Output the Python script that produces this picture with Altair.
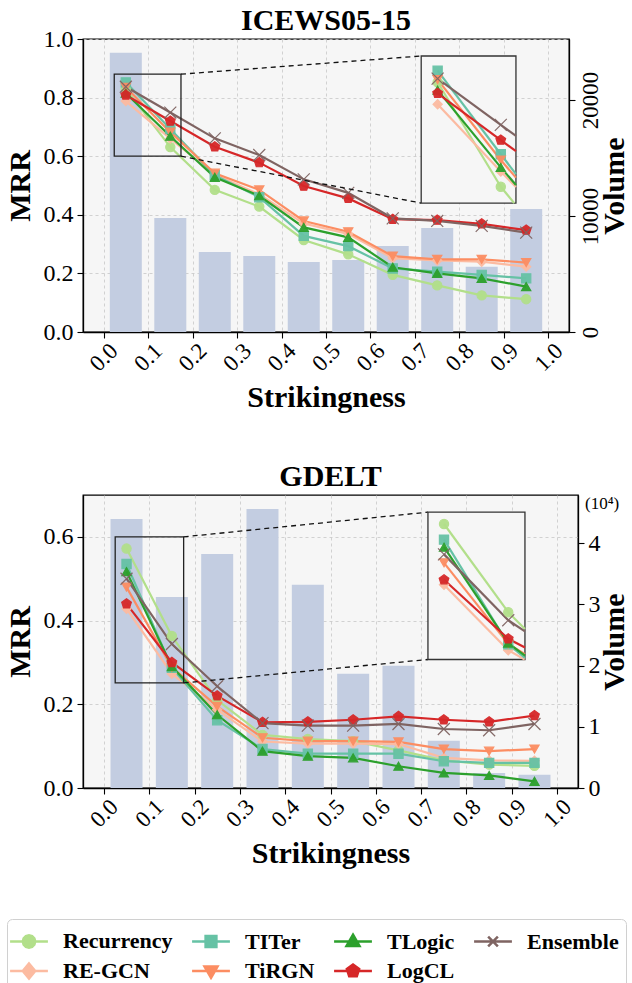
import math
import altair as alt
import pandas as pd

# ---------------- data ----------------
strikingness = [0.05, 0.15, 0.25, 0.35, 0.45, 0.55, 0.65, 0.75, 0.85, 0.95]
x_tick_values = [0.0, 0.1, 0.2, 0.3, 0.4, 0.5, 0.6, 0.7, 0.8, 0.9, 1.0]
methods = ["Recurrency", "RE-GCN", "TITer", "TiRGN", "TLogic", "LogCL", "Ensemble"]

icews_recurrency = [0.830, 0.631, 0.485, 0.428, 0.314, 0.265, 0.195, 0.159, 0.125, 0.112]
icews_regcn = [0.788, 0.660, 0.537, 0.470, 0.370, 0.335, 0.252, 0.244, 0.240, 0.223]
icews_titer = [0.852, 0.693, 0.535, 0.460, 0.328, 0.293, 0.217, 0.206, 0.195, 0.183]
icews_tirgn = [0.835, 0.682, 0.542, 0.485, 0.379, 0.342, 0.259, 0.248, 0.248, 0.237]
icews_tlogic = [0.815, 0.668, 0.528, 0.465, 0.357, 0.323, 0.221, 0.200, 0.183, 0.155]
icews_logcl = [0.809, 0.720, 0.632, 0.578, 0.498, 0.456, 0.385, 0.382, 0.369, 0.348]
icews_ensemble = [0.837, 0.749, 0.661, 0.604, 0.521, 0.475, 0.388, 0.379, 0.362, 0.339]
icews_volume = [24080, 9830, 6900, 6550, 6030, 6210, 7410, 8970, 5630, 10600]

gdelt_recurrency = [0.572, 0.363, 0.210, 0.127, 0.117, 0.112, 0.090, 0.066, 0.056, 0.053]
gdelt_regcn = [0.428, 0.273, 0.187, 0.111, 0.106, 0.106, 0.105, 0.072, 0.066, 0.065]
gdelt_titer = [0.535, 0.287, 0.162, 0.093, 0.082, 0.082, 0.082, 0.064, 0.060, 0.060]
gdelt_tirgn = [0.480, 0.288, 0.195, 0.120, 0.112, 0.112, 0.110, 0.093, 0.088, 0.093]
gdelt_tlogic = [0.517, 0.290, 0.175, 0.088, 0.076, 0.072, 0.052, 0.036, 0.030, 0.016]
gdelt_logcl = [0.440, 0.300, 0.220, 0.157, 0.158, 0.163, 0.171, 0.163, 0.158, 0.173]
gdelt_ensemble = [0.500, 0.344, 0.243, 0.155, 0.149, 0.149, 0.153, 0.141, 0.138, 0.153]
gdelt_volume = [43970, 31230, 38250, 45600, 33200, 18660, 19970, 7720, 2450, 2170]

# ---------------- styles ----------------
FONT = "Liberation Serif"
colors = {
    "Recurrency": "#b2df8a", "RE-GCN": "#fcbba1", "TITer": "#66c2a5", "TiRGN": "#fc8d62",
    "TLogic": "#2ca02c", "LogCL": "#d62728", "Ensemble": "#7f6462",
}


def poly(pts):
    return "M" + "L".join(f"{x:.3f},{y:.3f}" for x, y in pts) + "Z"


def ring(r, angles):
    return [(r * math.cos(math.radians(a)), r * math.sin(math.radians(a))) for a in angles]


PENT_ANG = (-90, -18, 54, 126, 198)
marker_shapes = {
    "Recurrency": "circle", "RE-GCN": "diamond", "TITer": "square", "TiRGN": "triangle-down",
    "TLogic": "triangle-up", "LogCL": poly(ring(1.1, PENT_ANG)),
    "Ensemble": "M-1.3,-1.3L1.3,1.3M-1.3,1.3L1.3,-1.3",
}
# legend symbols: a line stub with the marker on it
STUB = "M-1.4,0L1.4,0"
legend_shapes = {
    "Recurrency": STUB + poly(ring(0.46, range(0, 360, 30))),
    "RE-GCN": STUB + poly([(0, -0.56), (0.46, 0), (0, 0.56), (-0.46, 0)]),
    "TITer": STUB + poly([(-0.4, -0.4), (0.4, -0.4), (0.4, 0.4), (-0.4, 0.4)]),
    "TiRGN": STUB + poly([(0, 0.5), (0.48, -0.33), (-0.48, -0.33)]),
    "TLogic": STUB + poly([(0, -0.5), (0.48, 0.33), (-0.48, 0.33)]),
    "LogCL": STUB + poly(ring(0.48, PENT_ANG)),
    "Ensemble": STUB + "M-0.36,-0.36L0.36,0.36M-0.36,0.36L0.36,-0.36",
}
BAR_COLOR = "#c3cde1"


def panel(title, series, volume, ymax, yticks, vmax, vol_axis, width, src, dst,
          show_legend=False, note=None):
    rows = []
    for m in methods:
        for x, v in zip(strikingness, series[m]):
            rows.append({"method": m, "x": x, "mrr": v})
    df = pd.DataFrame(rows)
    vdf = pd.DataFrame({"x": strikingness, "volume": volume})

    xs = alt.Scale(domain=[-0.035, 1.035], nice=False, zero=False)
    ys = alt.Scale(domain=[0, ymax], nice=False, zero=False)
    cs = alt.Scale(domain=methods, range=[colors[m] for m in methods])
    ss = alt.Scale(domain=methods, range=[marker_shapes[m] for m in methods])

    xaxis = alt.Axis(values=x_tick_values, format=".1f", labelAngle=315, labelAlign="center",
                     labelBaseline="middle", labelPadding=19, labelFontSize=23, tickSize=6,
                     title="Strikingness", titleFontSize=30, titlePadding=7, grid=True)
    yaxis = alt.Axis(values=yticks, format=".1f", title="MRR", titleFontSize=30, labelFontSize=24,
                     tickSize=6, labelPadding=4, titlePadding=8, grid=True)

    def X(f):
        return alt.X(f, type="quantitative", scale=xs, axis=xaxis, title="Strikingness")

    def Y(f):
        return alt.Y(f, type="quantitative", scale=ys, axis=None)

    bars = alt.Chart(vdf).mark_bar(size=32, color=BAR_COLOR).encode(
        x=X("x"),
        y=alt.Y("volume:Q", scale=alt.Scale(domain=[0, vmax], nice=False, zero=True), axis=vol_axis),
    )

    base = alt.Chart(df)
    lines = base.mark_line(strokeWidth=2.2).encode(
        x=X("x"),
        y=alt.Y("mrr:Q", scale=ys, axis=yaxis),
        color=alt.Color("method:N", scale=cs, legend=None),
    )

    def pts(chart, xf, yf):
        return chart.mark_point(filled=True, size=85, strokeWidth=1.2, opacity=0.95).encode(
            x=X(xf), y=Y(yf),
            fill=alt.Fill("method:N", scale=cs, legend=None),
            stroke=alt.Stroke("method:N", scale=cs, legend=None),
            shape=alt.Shape("method:N", scale=ss, legend=None),
        )

    points = pts(base, "x", "mrr")

    sx0, sx1, sy0, sy1 = src
    dx0, dx1, dy0, dy1 = dst
    kx = (dx1 - dx0) / (sx1 - sx0)
    ky = (dy1 - dy0) / (sy1 - sy0)

    one = alt.Chart(alt.Data(values=[{"k": 1}]))

    def XD(v):
        return alt.XDatum(v, type="quantitative", scale=xs, axis=xaxis, title="Strikingness")

    def YD(v):
        return alt.YDatum(v, type="quantitative", scale=ys, axis=None)

    zoombox = one.mark_rect(fillOpacity=0, stroke="#222222", strokeWidth=1.3).encode(
        x=XD(sx0), x2=alt.X2Datum(sx1), y=YD(sy0), y2=alt.Y2Datum(sy1))
    conn_top = one.mark_rule(strokeDash=[5, 4], color="#111111", strokeWidth=1.3).encode(
        x=XD(sx1), y=YD(sy1), x2=alt.X2Datum(dx0), y2=alt.Y2Datum(dy1))
    conn_bot = one.mark_rule(strokeDash=[5, 4], color="#111111", strokeWidth=1.3).encode(
        x=XD(sx1), y=YD(sy0), x2=alt.X2Datum(dx0), y2=alt.Y2Datum(dy0))
    inset_bg = one.mark_rect(fill="#f6f6f6", stroke="#333333", strokeWidth=1.3).encode(
        x=XD(dx0), x2=alt.X2Datum(dx1), y=YD(dy0), y2=alt.Y2Datum(dy1))

    ix = f"{dx0} + (datum.x - {sx0}) * {kx}"
    iy = f"{dy0} + (datum.mrr - {sy0}) * {ky}"
    inset_base = base.transform_filter("datum.x < 0.2").transform_calculate(ix=ix, iy=iy)
    inset_lines = inset_base.mark_line(strokeWidth=2.2).encode(
        x=X("ix"), y=Y("iy"), color=alt.Color("method:N", scale=cs, legend=None))
    inset_points = pts(inset_base, "ix", "iy")

    exit_seg = (
        base.transform_window(nx="lead(x)", nm="lead(mrr)", sort=[alt.SortField("x")], groupby=["method"])
        .transform_filter("datum.x > 0.1 && datum.x < 0.2")
        .transform_calculate(yx=f"datum.mrr + (datum.nm - datum.mrr) * ({sx1} - datum.x) / (datum.nx - datum.x)")
        .transform_calculate(
            ex=f"datum.yx >= {sy0} ? {sx1} : datum.x + (datum.nx - datum.x) * ({sy0} - datum.mrr) / (datum.nm - datum.mrr)",
            ey=f"datum.yx >= {sy0} ? datum.yx : {sy0}")
        .transform_calculate(
            ix=ix, iy=iy,
            ix2=f"{dx0} + (datum.ex - {sx0}) * {kx}",
            iy2=f"{dy0} + (datum.ey - {sy0}) * {ky}")
        .mark_rule(strokeWidth=2.2)
        .encode(x=X("ix"), y=Y("iy"), x2=alt.X2("ix2"), y2=alt.Y2("iy2"),
                color=alt.Color("method:N", scale=cs, legend=None))
    )

    title_text = one.mark_text(align="center", baseline="middle", fontSize=30, font=FONT,
                               fontWeight="bold", color="#000").encode(
        x=alt.value(width / 2), y=alt.value(-18), text=alt.value(title))

    layers = [bars, lines, points, zoombox, conn_top, conn_bot, inset_bg, inset_lines,
              exit_seg, inset_points, title_text]

    if show_legend:
        leg = alt.Legend(orient="none", legendX=-76, legendY=424, columns=4, title=None,
                         labelFont=FONT, labelFontSize=22, labelFontWeight="bold", labelColor="#000",
                         symbolSize=730, symbolStrokeWidth=2.5, symbolOpacity=1,
                         columnPadding=14, rowPadding=3, labelOffset=19, labelLimit=300,
                         strokeColor="#d0d0d0", fillColor="white", cornerRadius=5, padding=7)
        lcs = alt.Scale(domain=methods, range=[colors[m] for m in methods])
        lss = alt.Scale(domain=methods, range=[legend_shapes[m] for m in methods])
        legend_layer = base.transform_filter("datum.x < 0").mark_point(
            filled=True, strokeWidth=2.5, opacity=1).encode(
            x=X("x"), y=Y("mrr"),
            fill=alt.Fill("method:N", scale=lcs, legend=leg),
            stroke=alt.Stroke("method:N", scale=lcs, legend=leg),
            shape=alt.Shape("method:N", scale=lss, legend=leg),
        )
        layers.append(legend_layer)

    if note:
        layers.append(one.mark_text(align="left", baseline="middle", fontSize=17, font=FONT,
                                    color="#000").encode(
            x=alt.value(502), y=alt.value(9), text=alt.value(note)))

    return alt.layer(*layers).resolve_scale(
        y="independent", color="independent", fill="independent", stroke="independent",
        shape="independent"
    ).properties(width=width, height=293)


top_series = {"Recurrency": icews_recurrency, "RE-GCN": icews_regcn, "TITer": icews_titer,
              "TiRGN": icews_tirgn, "TLogic": icews_tlogic, "LogCL": icews_logcl,
              "Ensemble": icews_ensemble}
bot_series = {"Recurrency": gdelt_recurrency, "RE-GCN": gdelt_regcn, "TITer": gdelt_titer,
              "TiRGN": gdelt_tirgn, "TLogic": gdelt_tlogic, "LogCL": gdelt_logcl,
              "Ensemble": gdelt_ensemble}

top_vol_axis = alt.Axis(orient="right", values=[0, 10000, 20000], format="d", title="Volume",
                        titleFontSize=30, titleAngle=270, labelAngle=270, labelAlign="center",
                        labelBaseline="top", labelFontSize=23, labelPadding=4, tickSize=6,
                        titlePadding=27, grid=False)
bot_vol_axis = alt.Axis(orient="right", values=[0, 10000, 20000, 30000, 40000],
                        labelExpr="datum.value / 10000", title="Volume", titleFontSize=30,
                        titleAngle=270, labelAngle=0, labelAlign="left", labelBaseline="middle",
                        labelFontSize=24, labelPadding=4, tickSize=6, titlePadding=29, grid=False)

top = panel("ICEWS05-15", top_series, icews_volume, 1.0, [0.0, 0.2, 0.4, 0.6, 0.8, 1.0],
            25260, top_vol_axis, 486,
            src=(0.024, 0.174, 0.60, 0.88), dst=(0.714, 0.927, 0.44, 0.942))
bottom = panel("GDELT", bot_series, gdelt_volume, 0.70, [0.0, 0.2, 0.4, 0.6],
               47880, bot_vol_axis, 495,
               src=(0.025, 0.176, 0.251, 0.60), dst=(0.715, 0.929, 0.307, 0.659),
               show_legend=True, note="(10⁴)")

chart = alt.vconcat(top, bottom, spacing=47).properties(
    padding={"left": 4, "top": 5, "right": 0, "bottom": 0}
).configure(font=FONT).configure_view(
    fill="#f6f6f6", stroke="#000000", strokeWidth=1.3
).configure_axis(
    domainColor="#000000", domainWidth=1.3, tickColor="#000000", tickWidth=1.1,
    labelColor="#000000", titleColor="#000000", labelFont=FONT, titleFont=FONT,
    titleFontWeight="bold", gridColor="#c8c8c8", gridDash=[3, 3], gridWidth=0.8,
)

chart.save("out.html", embed_options={"renderer": "svg", "actions": False})
